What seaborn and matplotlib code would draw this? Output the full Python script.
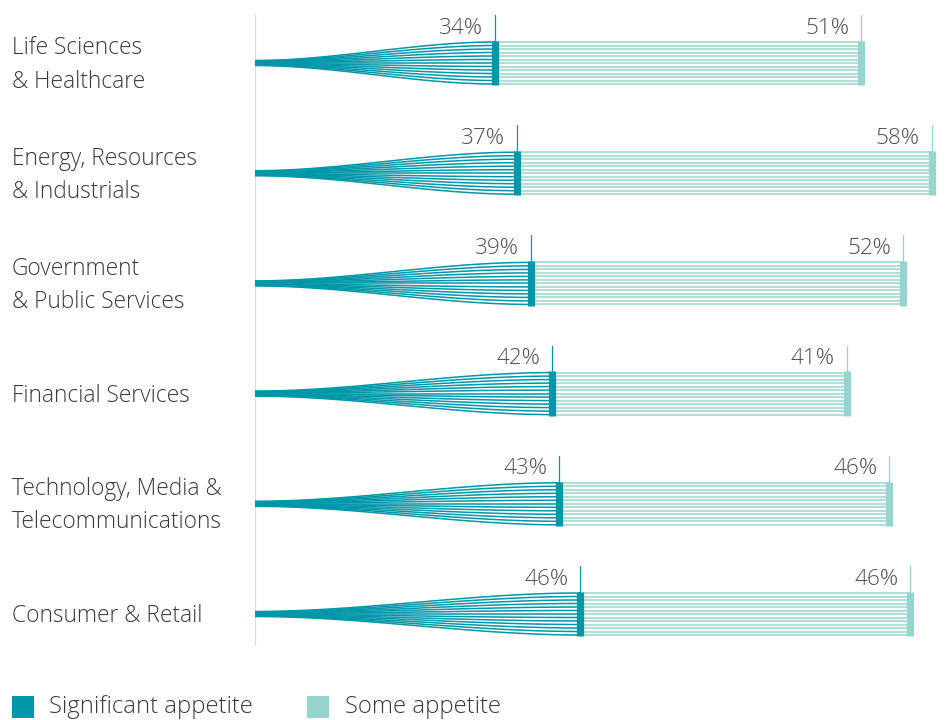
import numpy as np
import pandas as pd
import matplotlib
matplotlib.use("Agg")
import matplotlib.pyplot as plt
from matplotlib.patches import Rectangle
import seaborn as sns

# ---- data ----
categories = ["Life Sciences\n& Healthcare", "Energy, Resources\n& Industrials",
              "Government\n& Public Services", "Financial Services",
              "Technology, Media &\nTelecommunications", "Consumer & Retail"]
significant = [34, 37, 39, 42, 43, 46]
some = [51, 58, 52, 41, 46, 46]
series_names = ["Significant appetite", "Some appetite"]

DARK = "#0097A9"
LIGHT = "#98D4CE"
TXT = "#3a3a3a"

sns.set_theme(style="white")
plt.rcParams['font.family'] = ['Open Sans', 'DejaVu Sans']

W, H = 952, 720
fig = plt.figure(figsize=(W / 100, H / 100), dpi=100)
fig.patch.set_facecolor("white")
ax = fig.add_axes([255 / W, 1 - 650 / H, 690 / W, 640 / H])
PX = 7.07          # pixels per percentage point
ROW = 110.2        # pixels per row
ax.set_xlim(0, 690 / PX)
ax.set_ylim((650 - 63) / ROW, (10 - 63) / ROW)
ax.axis("off")

n_lines = 13
half = 21 / ROW
offsets = np.linspace(-half, half, n_lines)
t = np.linspace(0, 1, 90)
s = 3 * t ** 2 - 2 * t ** 3
r0 = 0.12
gap = 0.7

fan_rows, light_rows = [], []
for i, (sig, sm) in enumerate(zip(significant, some)):
    for k, off in enumerate(offsets):
        ys = i + off * (r0 + (1 - r0) * s)
        for x, y in zip(t * sig, ys):
            fan_rows.append(dict(x=x, y=y, unit=f"{i}-{k}"))
        for x in (sig, sig + sm + gap):
            light_rows.append(dict(x=x, y=i + off, unit=f"{i}-{k}"))
fan = pd.DataFrame(fan_rows)
light = pd.DataFrame(light_rows)

sns.lineplot(data=light, x="x", y="y", units="unit", estimator=None, sort=False,
             color=LIGHT, lw=1.1, ax=ax, legend=False)
sns.lineplot(data=fan, x="x", y="y", units="unit", estimator=None, sort=False,
             color=DARK, lw=1.1, ax=ax, legend=False)

# left spine
ax.plot([0, 0], [-48 / ROW, (645 - 63) / ROW], color="#dddddd", lw=0.9, clip_on=False, zorder=0)

for i, (sig, sm) in enumerate(zip(significant, some)):
    tot = sig + sm + gap
    ax.plot([sig, sig], [i - half - 0.01, i + half + 0.01], color=DARK, lw=5.2,
            solid_capstyle="butt", zorder=5)
    ax.plot([tot, tot], [i - half - 0.01, i + half + 0.01], color=LIGHT, lw=5.2,
            solid_capstyle="butt", zorder=5, clip_on=False)
    ax.plot([sig, sig], [i - half, i - 48 / ROW], color=DARK, lw=0.9, zorder=5)
    ax.plot([tot, tot], [i - half, i - 48 / ROW], color=LIGHT, lw=0.9, zorder=5, clip_on=False)
    ax.text(sig - 12 / PX, i - 35 / ROW, f"{sig}%", ha="right", va="center",
            fontsize=16.2, color="#4f4f4f", fontweight="light")
    ax.text(tot - 12 / PX, i - 35 / ROW, f"{sm}%", ha="right", va="center",
            fontsize=16.2, color="#4f4f4f", fontweight="light")
    fig.text(12 / W, 1 - (65 + ROW * i) / H, categories[i], ha="left", va="center",
             fontsize=16.4, linespacing=1.52, color=TXT, fontweight="light")

# legend
for (x0, xt), name, col in zip([(12, 49), (307, 345)], series_names, [DARK, LIGHT]):
    fig.add_artist(Rectangle((x0 / W, 1 - 718 / H), 22 / W, 22 / H,
                             transform=fig.transFigure, color=col, lw=0))
    fig.text(xt / W, 1 - 707 / H, name, ha="left", va="center", fontsize=17.2,
             color=TXT, fontweight="light")

fig.savefig("out.png", dpi=100, facecolor="white")
